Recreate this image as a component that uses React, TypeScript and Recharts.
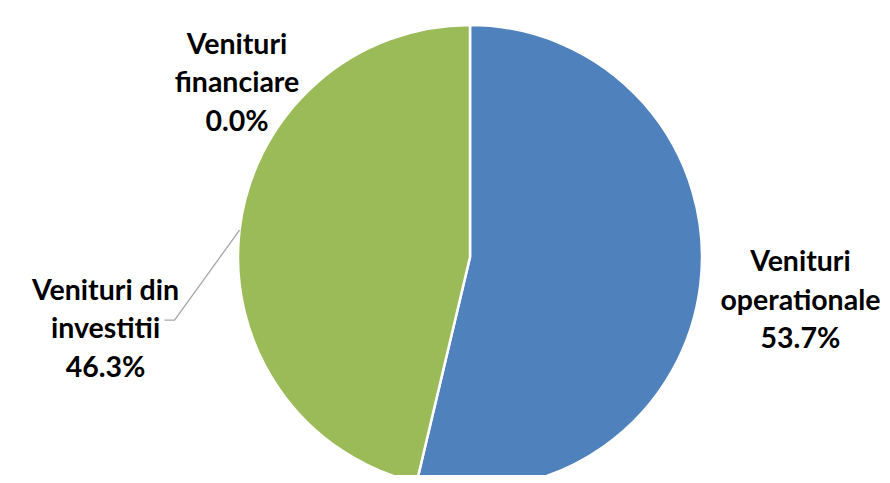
import { PieChart, Pie, Cell } from 'recharts';

const categories = ['Venituri operationale', 'Venituri din investitii', 'Venituri financiare'];
const shares = [53.7, 46.3, 0.0];
const colors = ['#4F81BD', '#9BBB59', '#C0504D'];

// label text split into lines, last line is the percent
const labelLines = [
    ['Venituri', 'operationale'],
    ['Venituri din', 'investitii'],
    ['Venituri', 'financiare'],
];

// where each label sits, measured from the slice's outer edge point
const labelOffsets = [
    { dx: 100, dy: 26 },
    { dx: -134, dy: 108, leader: true },
    { dx: -233, dy: 67 },
];

const data = categories.map((name, i) => ({ name, value: shares[i] }));

const RAD = Math.PI / 180;
const LINE_H = 38.5;

const renderLabel = (props: any) => {
    const { cx, cy, midAngle, outerRadius, index, value } = props;
    const ex = cx + outerRadius * Math.cos(-midAngle * RAD);
    const ey = cy + outerRadius * Math.sin(-midAngle * RAD);
    const off = labelOffsets[index];
    const tx = ex + off.dx;
    const ty = ey + off.dy;
    const lines = [...labelLines[index], `${Number(value).toFixed(1)}%`];
    return (
        <g key={`lbl-${index}`}>
            {off.leader && (
                <polyline
                    points={`${ex},${ey} ${ex - 65},${ey + 90} ${ex - 75},${ey + 90}`}
                    fill="none"
                    stroke="#A6A6A6"
                    strokeWidth={1.3}
                />
            )}
            <text
                x={tx}
                y={ty}
                textAnchor="middle"
                fill="#000"
                style={{ fontFamily: 'Lato, sans-serif', fontWeight: 700, fontSize: 28.5 }}
            >
                {lines.map((t, j) => (
                    <tspan key={j} x={tx} y={ty + (j - 1) * LINE_H}>
                        {t}
                    </tspan>
                ))}
            </text>
        </g>
    );
};

export default function App() {
    return (
        <div style={{ width: 890, height: 483, margin: -8, background: '#fff' }}>
            <PieChart width={890} height={483} margin={{ top: 0, right: 0, bottom: 0, left: 0 }}>
                <Pie
                    data={data}
                    dataKey="value"
                    nameKey="name"
                    cx={470}
                    cy={257}
                    outerRadius={232}
                    startAngle={90}
                    endAngle={-270}
                    stroke="#fff"
                    strokeWidth={2.5}
                    label={renderLabel}
                    labelLine={false}
                    isAnimationActive={false}
                >
                    {data.map((d, i) => (
                        <Cell key={d.name} fill={colors[i]} />
                    ))}
                </Pie>
            </PieChart>
        </div>
    );
}
